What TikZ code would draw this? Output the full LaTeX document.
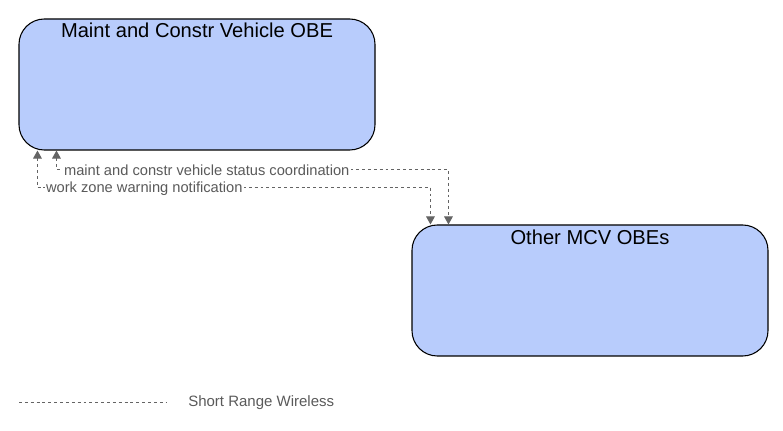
\documentclass[tikz,border=0pt]{standalone}
\usepackage{fontspec}
\setmainfont{Liberation Sans}
\usetikzlibrary{arrows.meta,calc,positioning}

\definecolor{boxblue}{RGB}{184,204,252}
\definecolor{flowgray}{RGB}{100,100,100}
\definecolor{textgray}{RGB}{90,90,90}

\begin{document}
\begin{tikzpicture}[x=0.75pt, y=-0.75pt,
	element/.style={draw=black, fill=boxblue, rounded corners=19pt,
		minimum width=267pt, minimum height=98.25pt, line width=0.8pt},
	title/.style={font=\fontsize{15.1}{17}\selectfont, anchor=north, inner sep=0pt},
	flow/.style={draw=flowgray, dashed, dash pattern=on 2.2pt off 2.2pt, line width=0.75pt,
		{Triangle[width=6.5pt,length=6pt]}-{Triangle[width=6.5pt,length=6pt]}},
	flowlabel/.style={font=\fontsize{11}{13}\selectfont, text=textgray, fill=white,
		inner sep=1pt, anchor=west}]
	\useasboundingbox (0,0) rectangle (783,431);
	% elements
	\node[element] (mcv) at (197, 84.5) {};
	\node[title] (mcvt) at ($(mcv.north)+(0,4)$) {Maint and Constr Vehicle OBE};
	\node[element] (other) at (590, 290.5) {};
	\node[title] (othert) at ($(other.north)+(0,5)$) {Other MCV OBEs};
	% flows
	\draw[flow] ($(mcv.south west)+(38,0)$) |- ($(other.north west)+(37,-55)$) -- ($(other.north west)+(37,0)$);
	\draw[flow] ($(mcv.south west)+(19,0)$) |- ($(other.north west)+(19,-37)$) -- ($(other.north west)+(19,0)$);
	\node[flowlabel] (status) at ($(mcv.south west)+(44,20)$) {maint and constr vehicle status coordination};
	\node[flowlabel] (workzone) at ($(mcv.south west)+(26,38)$) {work zone warning notification};
	% legend
	\coordinate (lega) at (19,403);
	\coordinate (legb) at (166,403);
	\draw[draw=flowgray, dash pattern=on 2.2pt off 2.2pt, line width=0.75pt] (lega) -- (legb);
	\node[font=\fontsize{11.25}{13}\selectfont, text=textgray, anchor=west, inner sep=0pt] (legt) at (188,403) {Short Range Wireless};
\end{tikzpicture}
\end{document}
